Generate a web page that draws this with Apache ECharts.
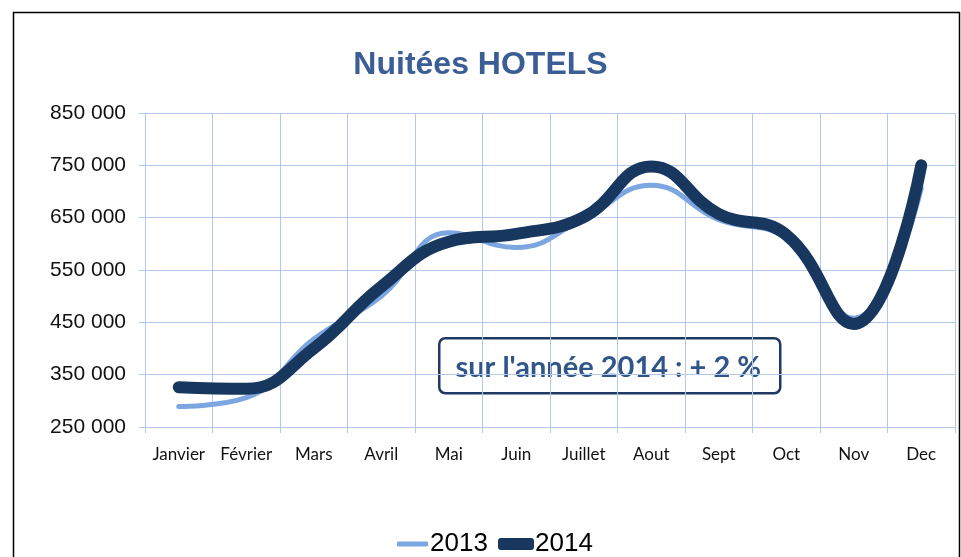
<!DOCTYPE html>
<html>
<head>
<meta charset="utf-8">
<script src="https://cdn.jsdelivr.net/npm/echarts@6/dist/echarts.min.js"></script>
<style>
  html, body { margin: 0; padding: 0; background: #fff; }
  #main { width: 961px; height: 557px; }
</style>
</head>
<body>
<div id="main"></div>
<script>
// mois
const months = ['Janvier', 'Février', 'Mars', 'Avril', 'Mai', 'Juin', 'Juillet', 'Aout', 'Sept', 'Oct', 'Nov', 'Dec'];
// nuitées
const nuitees2013 = [289000, 306000, 418000, 500000, 621000, 593000, 648000, 712000, 646000, 610000, 458000, 706000];
const nuitees2014 = [326000, 323000, 400000, 518000, 604000, 619000, 651000, 748000, 657000, 617000, 447000, 750000];
// axe y
const yMin = 250000;
const yMax = 850000;
const yStep = 100000;

const gridColor = '#b3c8e8';

function fmt(v) {
  return String(v).replace(/\B(?=(\d{3})+(?!\d))/g, ' ');
}

const myChart = echarts.init(document.getElementById('main'));
const option = {
  animation: false,
  title: {
    text: 'Nuitées HOTELS',
    left: 'center',
    top: 44,
    textStyle: { fontFamily: 'Liberation Sans, Arial, sans-serif', fontSize: 32, fontWeight: 'bold', color: '#3b5e95' }
  },
  grid: { left: 145, right: 6, top: 113, bottom: 130, containLabel: false },
  legend: [
    {
      data: [{ name: '2013', icon: 'roundRect' }],
      left: 392, top: 526,
      itemWidth: 31, itemHeight: 5, itemGap: 0,
      textStyle: { fontFamily: 'Liberation Sans, Arial, sans-serif', fontSize: 26, color: '#000', padding: [0, 0, 0, -3] }
    },
    {
      data: [{ name: '2014', icon: 'roundRect' }],
      left: 493, top: 526,
      itemWidth: 36, itemHeight: 12, itemGap: 0,
      textStyle: { fontFamily: 'Liberation Sans, Arial, sans-serif', fontSize: 26, color: '#000', padding: [0, 0, 0, -4] }
    }
  ],
  xAxis: {
    type: 'category',
    data: months,
    boundaryGap: true,
    axisLine: { lineStyle: { color: gridColor, width: 1 } },
    axisTick: { show: true, interval: 0, length: 6, lineStyle: { color: gridColor } },
    splitLine: { show: true, interval: 0, lineStyle: { color: gridColor, width: 1 } },
    axisLabel: { interval: 0, margin: 19, fontFamily: 'Lato, sans-serif', fontSize: 17, color: '#111' }
  },
  yAxis: {
    type: 'value',
    min: yMin,
    max: yMax,
    interval: yStep,
    axisLine: { show: true, lineStyle: { color: gridColor, width: 1 } },
    axisTick: { show: true, length: 6, lineStyle: { color: gridColor } },
    splitLine: { show: true, lineStyle: { color: gridColor, width: 1 } },
    axisLabel: { margin: 19, fontFamily: 'Liberation Sans, Arial, sans-serif', fontSize: 21, color: '#111', formatter: fmt }
  },
  series: [
    {
      name: '2013',
      type: 'line',
      data: nuitees2013,
      smooth: 0.45,
      showSymbol: false,
      symbol: 'none',
      color: '#7ca6e0',
      lineStyle: { color: '#7ca6e0', width: 5, cap: 'round' },
      z: 2
    },
    {
      name: '2014',
      type: 'line',
      data: nuitees2014,
      smooth: 0.45,
      showSymbol: false,
      symbol: 'none',
      color: '#17375e',
      lineStyle: { color: '#17375e', width: 12, cap: 'round' },
      z: 3
    }
  ],
  graphic: [
    {
      type: 'rect',
      left: 11, top: 10,
      shape: { width: 946, height: 600 },
      style: { fill: 'none', stroke: '#000', lineWidth: 1.5 },
      z: 0, silent: true
    },
    {
      type: 'group',
      left: 438, top: 337,
      z: 100,
      children: [
        {
          type: 'rect',
          shape: { x: 0, y: 0, width: 341, height: 55, r: 6 },
          style: { fill: '#fff', stroke: '#1f3864', lineWidth: 2.5 }
        },
        {
          type: 'text',
          x: 169, y: 29,
          style: {
            text: "sur l'année 2014 : + 2 %",
            fill: '#2f5589',
            font: 'bold 29px Lato, sans-serif',
            align: 'center',
            verticalAlign: 'middle'
          }
        }
      ]
    }
  ]
};
myChart.setOption(option);
</script>
</body>
</html>
